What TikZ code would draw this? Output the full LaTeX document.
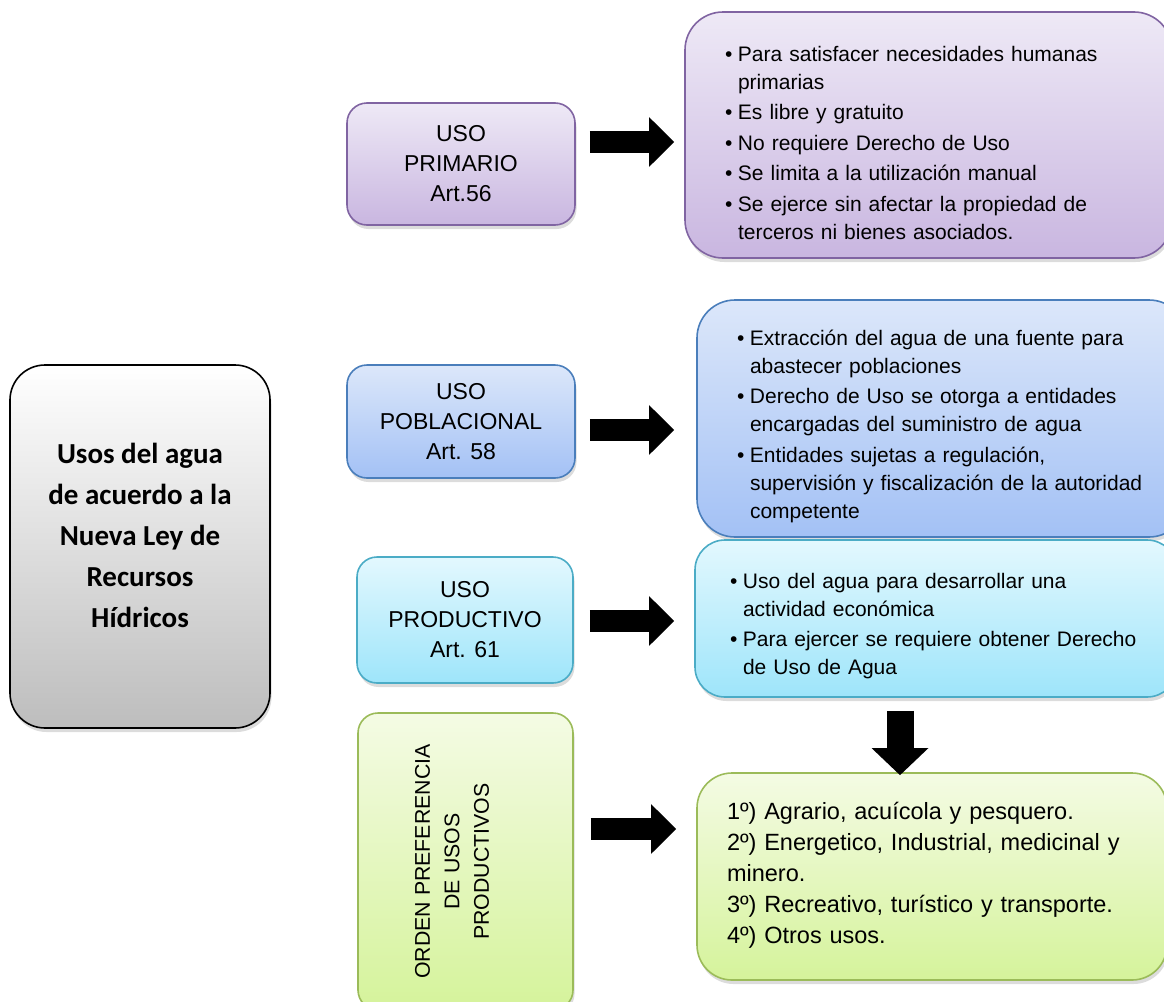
\documentclass[tikz,border=0pt]{standalone}
\usepackage{fontspec}
\setmainfont{Liberation Sans}
\newfontfamily\calibri{Carlito}
\usetikzlibrary{arrows.meta, positioning, shadows, calc}

\definecolor{lilatop}{HTML}{EEE9F6}
\definecolor{lilabot}{HTML}{C9B6E0}
\definecolor{lilaline}{HTML}{8064A2}
\definecolor{azultop}{HTML}{DCE7FA}
\definecolor{azulbot}{HTML}{A3C1F5}
\definecolor{azulline}{HTML}{4A7EBB}
\definecolor{celestetop}{HTML}{E3F8FE}
\definecolor{celestebot}{HTML}{9EE5FA}
\definecolor{celesteline}{HTML}{4BACC6}
\definecolor{verdetop}{HTML}{F4FBE4}
\definecolor{verdebot}{HTML}{D5F39B}
\definecolor{verdeline}{HTML}{9BBB59}
\definecolor{grisbot}{HTML}{BDBDBD}

% one bullet line, wrapped lines hang under the text
\newcommand{\bul}[1]{\par\hangindent=13pt\hangafter=1\noindent\makebox[13pt][l]{\textbullet}#1\par}
\newcommand{\nl}{\hfil\break}

\begin{document}
\begin{tikzpicture}[
        x = 1pt, y = -1pt,
        basebox/.style = {rounded corners = 20pt, line width = 1.6pt,
            drop shadow = {shadow xshift = 1.5pt, shadow yshift = -4pt, opacity = 0.28}},
        usebox/.style = {basebox, align = center, font = \fontsize{23}{30}\selectfont},
        listbox/.style = {basebox, rounded corners = 38pt, align = left,
            font = \fontsize{21}{28}\selectfont\setlength{\parskip}{2.5pt}},
        lila/.style = {draw = lilaline, top color = lilatop, bottom color = lilabot},
        azul/.style = {draw = azulline, top color = azultop, bottom color = azulbot},
        celeste/.style = {draw = celesteline, top color = celestetop, bottom color = celestebot},
        verde/.style = {draw = verdeline, top color = verdetop, bottom color = verdebot},
        gris/.style = {draw = black, top color = white, bottom color = grisbot},
        bigarrow/.style = {line width = 22pt, -{Triangle[length = 25pt, width = 48pt]}}
    ]

    \useasboundingbox (0,0) rectangle (1164,1001);
    \clip (0,0) rectangle (1164,1001);

    \node[basebox, gris, rounded corners = 35pt, minimum width = 260pt, minimum height = 363pt,
          align = center, font = {\fontsize{29}{41}\calibri\bfseries}]
          (usos) at (140,546.5) {Usos del agua\\de acuerdo a la\\Nueva Ley de\\Recursos\\Hídricos\\[-19pt]\mbox{}};

    \node[usebox, lila, minimum width = 228pt, minimum height = 122pt] (prim) at (461,164) {USO\\PRIMARIO\\Art.56};
    \node[usebox, azul, minimum width = 228pt, minimum height = 113pt] (pob) at (461,421.5) {USO\\POBLACIONAL\\Art. 58};
    \node[usebox, celeste, minimum width = 216pt, minimum height = 126pt] (prod) at (465,620) {USO\\PRODUCTIVO\\Art. 61};
    \node[usebox, verde, minimum width = 215pt, minimum height = 297pt, font = \fontsize{21.3}{29.5}\selectfont] (orden) at (465.5,861.5)
          {\rotatebox{90}{\begin{tabular}{@{}c@{}}ORDEN PREFERENCIA\\DE USOS\\PRODUCTIVOS\end{tabular}}\hspace*{24pt}};

    \node[listbox, lila, minimum width = 487pt, minimum height = 246pt, text width = 407pt] (primtxt) at (928.5,135) {
        \bul{Para satisfacer necesidades humanas\nl primarias}
        \bul{Es libre y gratuito}
        \bul{No requiere Derecho de Uso}
        \bul{Se limita a la utilización manual}
        \bul{Se ejerce sin afectar la propiedad de\nl terceros ni bienes asociados.}\vspace*{4pt}};

    \node[listbox, azul, minimum width = 490pt, minimum height = 237pt, text width = 410pt] (pobtxt) at (942,418.5) {
        \bul{Extracción del agua de una fuente para\nl abastecer poblaciones}
        \bul{Derecho de Uso se otorga a entidades\nl encargadas del suministro de agua}
        \bul{Entidades sujetas a regulación,\nl supervisión y fiscalización de la autoridad\nl competente}};

    \node[listbox, celeste, rounded corners = 30pt, minimum width = 482pt, minimum height = 157pt, text width = 412pt] (prodtxt) at (936,618.5) {
        \bul{Uso del agua para desarrollar una\nl actividad económica}
        \bul{Para ejercer se requiere obtener Derecho\nl de Uso de Agua}};

    \node[basebox, verde, rounded corners = 35pt, minimum width = 470pt, minimum height = 207pt, text width = 410pt,
          align = left, font = \fontsize{23.5}{31}\selectfont] (ordtxt) at (932,876.5)
          {1º) Agrario, acuícola y pesquero.\\2º) Energetico, Industrial, medicinal y\\minero.\\3º) Recreativo, turístico y transporte.\\4º) Otros usos.\\[-24pt]\mbox{}};

    \draw[bigarrow] ($(prim.east)+(14,-22)$) -- ($(primtxt.west)+(-10,7)$);
    \draw[bigarrow] ($(pob.east)+(14,8.5)$) -- ($(pobtxt.west)+(-22,11.5)$);
    \draw[bigarrow] ($(prod.east)+(16,1)$) -- ($(prodtxt.west)+(-20,2.5)$);
    \draw[bigarrow] ($(orden.east)+(17,-32.5)$) -- ($(ordtxt.west)+(-20,-47.5)$);
    \draw[line width = 27pt, -{Triangle[length = 27pt, width = 55pt]}]
        ($(prodtxt.south)+(-36,13)$) -- ($(ordtxt.north)+(-32,3)$);

\end{tikzpicture}
\end{document}
